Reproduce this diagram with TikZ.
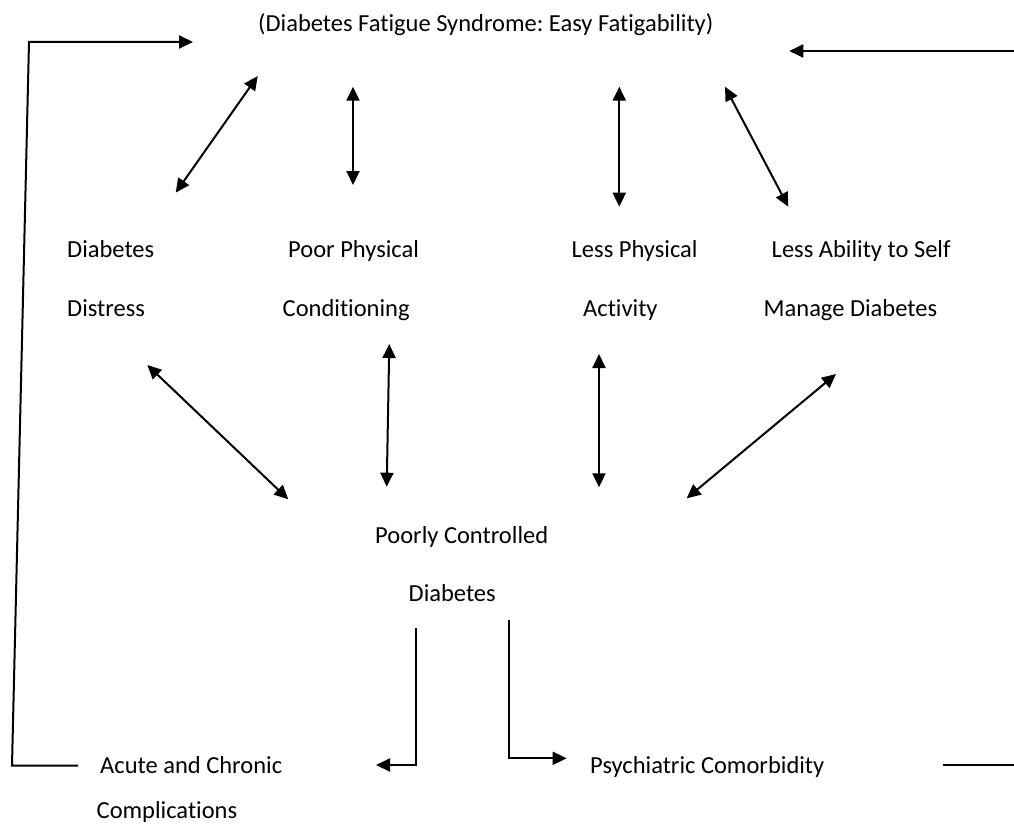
\documentclass[tikz,border=0pt]{standalone}
\usepackage{fontspec}
\setmainfont{Carlito}[Ligatures={NoCommon},RawFeature={-liga;-clig}]
\usetikzlibrary{arrows.meta}
\begin{document}
\frenchspacing
\begin{tikzpicture}[x=1pt,y=-1pt,
  lbl/.style={anchor=base west,inner sep=0pt,font=\fontsize{24.5}{28}\selectfont},
  conn/.style={line width=2pt,black},
  tip/.style={-{Triangle[length=14pt,width=13pt]}},
  dbl/.style={{Triangle[length=14pt,width=13pt]}-{Triangle[length=14pt,width=13pt]}}]
\useasboundingbox[fill=white] (0,0) rectangle (1014,832);
% texts
\node[lbl] (title) at (258,32) {(Diabetes Fatigue Syndrome: Easy Fatigability)};
\node[lbl] (dd1) at (67,257) {Diabetes};
\node[lbl] (dd2) at (67,316) {Distress};
\node[lbl] (pp1) at (288,257) {Poor Physical};
\node[lbl] (pp2) at (282.5,316) {Conditioning};
\node[lbl] (lp1) at (571.5,257) {Less Physical};
\node[lbl] (lp2) at (583,316) {Activity};
\node[lbl] (la1) at (771.5,257) {Less Ability to Self};
\node[lbl] (la2) at (763.5,316) {Manage Diabetes};
\node[lbl] (pc1) at (375,543) {Poorly Controlled};
\node[lbl] (pc2) at (408.5,601) {Diabetes};
\node[lbl] (ac1) at (100,773) {Acute and Chronic};
\node[lbl] (ac2) at (96.5,818) {Complications};
\node[lbl] (ps) at (590,773) {Psychiatric Comorbidity};
% arrow end points
\coordinate (a1s) at (175.7,192.7); \coordinate (a1e) at (257.7,76);
\coordinate (a2s) at (353,185);     \coordinate (a2e) at (353,86.7);
\coordinate (a3s) at (619.3,206.7); \coordinate (a3e) at (619.3,86.7);
\coordinate (a4s) at (788.3,206.7); \coordinate (a4e) at (725,86.7);
\coordinate (b1s) at (147.3,365);   \coordinate (b1e) at (288.3,499.3);
\coordinate (b2s) at (389.3,344);   \coordinate (b2e) at (386.7,486.7);
\coordinate (b3s) at (599,354);     \coordinate (b3e) at (599,487.3);
\coordinate (b4s) at (836,374);     \coordinate (b4e) at (686.7,498.3);
\coordinate (c1s) at (415.5,628);   \coordinate (c1m) at (415.5,765); \coordinate (c1e) at (376,765);
\coordinate (c2s) at (509,620);     \coordinate (c2m) at (509,758.3); \coordinate (c2e) at (566.7,758.3);
\coordinate (l1) at (78,765.5); \coordinate (l2) at (12,765.5); \coordinate (l3) at (29,42); \coordinate (l4) at (193,42);
\coordinate (r1) at (943,765); \coordinate (r2) at (1014,765);
\coordinate (r3) at (1014,51); \coordinate (r4) at (789.3,51);
% connectors
\draw[conn,dbl] (a1s) -- (a1e);
\draw[conn,dbl] (a2s) -- (a2e);
\draw[conn,dbl] (a3s) -- (a3e);
\draw[conn,dbl] (a4s) -- (a4e);
\draw[conn,dbl] (b1s) -- (b1e);
\draw[conn,dbl] (b2s) -- (b2e);
\draw[conn,dbl] (b3s) -- (b3e);
\draw[conn,dbl] (b4s) -- (b4e);
\draw[conn,tip] (c1s) -- (c1m) -- (c1e);
\draw[conn,tip] (c2s) -- (c2m) -- (c2e);
\draw[conn,tip] (l1) -- (l2) -- (l3) -- (l4);
\draw[conn] (r1) -- (r2);
\draw[conn,tip] (r3) -- (r4);
\end{tikzpicture}
\end{document}
